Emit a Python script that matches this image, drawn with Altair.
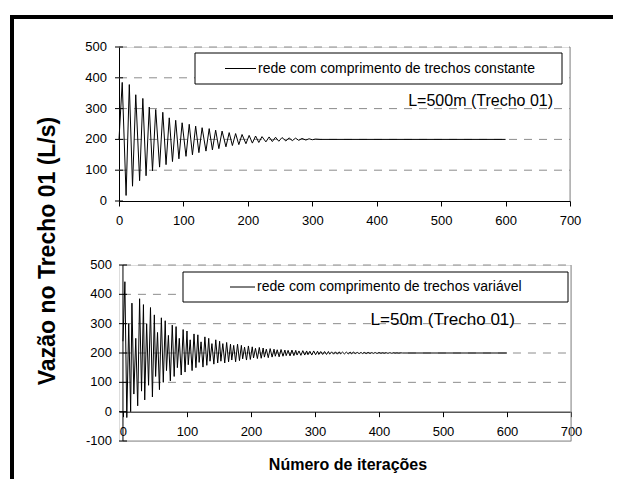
import altair as alt
import pandas as pd

# ---------------- data ----------------
# top panel: turning points of the oscillation (iteration, flow L/s)
top_iter = [0, 5, 11, 16, 21, 26, 32, 37, 42, 47,
            52, 57, 63, 68, 73, 78, 83, 88, 93, 98,
            104, 109, 114, 119, 124, 129, 135, 140, 145, 150,
            155, 160, 166, 171, 176, 181, 186, 191, 197, 202,
            207, 212, 217, 222, 228, 233, 238, 243, 248, 253,
            259, 264, 269, 274, 279, 284, 290, 295, 300, 305,
            312, 600]
top_vazao = [200, 385, 18, 378, 48, 345, 66, 333, 82, 305,
             98, 297, 110, 288, 118, 270, 128, 262, 137, 254,
             145, 249, 150, 243, 157, 238, 162, 235, 166, 230,
             170, 227, 176, 222, 180, 219, 183, 216, 186, 213,
             188, 211, 190, 209, 192, 208, 193, 207, 194, 206,
             195, 205, 196, 204, 197, 203, 198, 202, 199, 201,
             200, 200]

# bottom panel: turning points of the oscillation (iteration, flow L/s)
bot_iter = [0, 3, 6, 9, 12, 14, 17, 20, 23, 26,
            29, 32, 34, 37, 40, 43, 46, 49, 51, 54,
            57, 60, 63, 66, 68, 71, 74, 77, 80, 83,
            85, 88, 91, 94, 97, 100, 102, 105, 108, 111,
            114, 117, 119, 122, 125, 128, 131, 134, 136, 139,
            142, 145, 148, 151, 153, 156, 159, 162, 165, 168,
            170, 173, 176, 179, 182, 185, 187, 190, 193, 196,
            199, 202, 204, 207, 210, 213, 216, 219, 221, 224,
            227, 230, 233, 236, 238, 241, 244, 247, 250, 253,
            255, 258, 261, 264, 267, 270, 272, 275, 278, 281,
            284, 287, 289, 292, 295, 298, 301, 304, 306, 309,
            312, 315, 318, 321, 323, 326, 329, 332, 335, 338,
            340, 343, 346, 349, 352, 355, 357, 360, 363, 366,
            369, 372, 374, 377, 380, 383, 386, 389, 391, 394,
            397, 400, 403, 406, 408, 411, 414, 417, 420, 423,
            425, 428, 431, 434, 437, 600]
bot_vazao = [240, 443, -20, 300, 0, 370, 60, 250, 20, 385,
             70, 365, 40, 300, 90, 355, 50, 330, 120, 270,
             75, 320, 100, 310, 140, 260, 105, 295, 120, 290,
             150, 250, 125, 280, 135, 275, 160, 245, 140, 265,
             150, 262, 168, 238, 152, 255, 158, 250, 172, 232,
             162, 245, 166, 240, 172, 232, 166, 236, 170, 230,
             176, 226, 170, 230, 174, 226, 180, 220, 176, 224,
             178, 221, 183, 216, 181, 219, 182, 217, 186, 213,
             184, 215, 186, 213, 189, 211, 187, 212, 189, 210,
             191, 209, 190, 210, 191, 209, 193, 207, 192, 208,
             193, 207, 194, 206, 193, 207, 194, 206, 195, 205,
             195, 205, 195, 205, 196, 204, 196, 204, 196, 204,
             197, 203, 197, 203, 197, 203, 197, 203, 198, 202,
             198, 202, 198, 202, 198, 202, 198.5, 201.5, 198.5, 201.5,
             198.5, 201.5, 199, 201, 199, 201, 199, 201, 199, 201,
             199.5, 200.5, 199.5, 200.5, 200, 200]

x_ticks = [0, 100, 200, 300, 400, 500, 600, 700]
top_y_ticks = [0, 100, 200, 300, 400, 500]
top_y_labels = ["0", "100", "200", "300", "400", "500"]
bot_y_ticks = [-100, 0, 100, 200, 300, 400, 500]
bot_y_labels = ["-100", "0", "100", "200", "300", "400", "500"]
grid_values = [100, 200, 300, 400, 500]

legend_top = ["rede com comprimento de trechos constante"]
legend_bot = ["rede com comprimento de trechos variável"]
note_top = ["L=500m (Trecho 01)"]
note_bot = ["L=50m (Trecho 01)"]
y_title = ["Vazão no Trecho 01 (L/s)"]
x_title = ["Número de iterações"]

# ---------------- styling ----------------
FONT = "Liberation Sans"
GRID = "#8c8c8c"
FRAME = "#8c8c8c"

W_TOP, H_TOP = 451, 154
W_BOT, H_BOT = 452, 176

top_df = pd.DataFrame({"iter": top_iter, "vazao": top_vazao})
bot_df = pd.DataFrame({"iter": bot_iter, "vazao": bot_vazao})
one = pd.DataFrame({"k": [0]})


def txt(values):
    return pd.DataFrame({"t": values})


# ---------------- top panel ----------------
xs_top = alt.Scale(domain=[0, 700], nice=False, zero=False)
ys_top = alt.Scale(domain=[0, 500], nice=False, zero=False)

grid_top = alt.Chart(pd.DataFrame({"vazao": grid_values})).mark_rule(
    color=GRID, strokeDash=[8, 7], strokeWidth=1
).encode(
    x=alt.X(datum=0, scale=xs_top),
    x2=alt.X2(datum=700),
    y=alt.Y("vazao:Q", scale=ys_top),
)

line_top = alt.Chart(top_df).mark_line(color="black", strokeWidth=1).encode(
    x=alt.X("iter:Q", scale=xs_top, axis=alt.Axis(
        values=x_ticks, title=None, grid=False, domainColor="black",
        tickColor="black", tickSize=5, labelPadding=8, labelFontSize=13,
        labelColor="black", labelFont=FONT, labelFlush=False, labelOverlap=False)),
    y=alt.Y("vazao:Q", scale=ys_top, axis=alt.Axis(
        values=top_y_ticks, title=None, grid=False, domainColor="black",
        ticks=False, tickSize=0, labels=False)),
)

yt_top = alt.Chart(pd.DataFrame({"vazao": top_y_ticks})).mark_rule(
    color="black", strokeWidth=1
).encode(x=alt.value(-4), x2=alt.value(4), y=alt.Y("vazao:Q", scale=ys_top))

ylab_top = alt.Chart(pd.DataFrame({"vazao": top_y_ticks, "lab": top_y_labels})).mark_text(
    font=FONT, fontSize=13, align="right", baseline="middle", color="black"
).encode(text="lab:N", x=alt.value(-12), y=alt.Y("vazao:Q", scale=ys_top))

right_top = alt.Chart(one).mark_rule(color=FRAME, strokeWidth=1).encode(
    x=alt.X(datum=700, scale=xs_top), y=alt.Y(datum=0, scale=ys_top), y2=alt.Y2(datum=500)
)

box_top = alt.Chart(one).mark_rect(fill="white", stroke="black", strokeWidth=1).encode(
    x=alt.value(76), x2=alt.value(443), y=alt.value(6), y2=alt.value(37)
)
sample_top = alt.Chart(one).mark_rule(color="black", strokeWidth=1).encode(
    x=alt.value(106), x2=alt.value(137), y=alt.value(21.5)
)
legtext_top = alt.Chart(txt(legend_top)).mark_text(
    font=FONT, fontSize=14, align="left", baseline="middle", color="black"
).encode(text="t:N", x=alt.value(139), y=alt.value(21.5))
note_top_l = alt.Chart(txt(note_top)).mark_text(
    font=FONT, fontSize=16, align="right", baseline="alphabetic", color="black"
).encode(text="t:N", x=alt.value(434), y=alt.value(59))

ytitle_l = alt.Chart(txt(y_title)).mark_text(
    font=FONT, fontSize=23, fontWeight="bold", angle=270, align="center",
    baseline="middle", color="black"
).encode(text="t:N", x=alt.value(-71), y=alt.value(204))

# outer frame (thick black border, cut by the page edges)
frame_v = alt.Chart(one).mark_rule(color="black", strokeWidth=4, strokeCap="square").encode(
    x=alt.value(-107), y=alt.value(-30), y2=alt.value(438)
)
frame_h = alt.Chart(one).mark_rule(color="black", strokeWidth=4, strokeCap="square").encode(
    x=alt.value(-107), x2=alt.value(502), y=alt.value(-30)
)

top = alt.layer(
    grid_top, right_top, line_top, yt_top, ylab_top, box_top, sample_top,
    legtext_top, note_top_l, ytitle_l, frame_v, frame_h
).properties(width=W_TOP, height=H_TOP)

# ---------------- bottom panel ----------------
xs_bot = alt.Scale(domain=[-6.2, 700], nice=False, zero=False)
ys_bot = alt.Scale(domain=[-100, 500], nice=False, zero=False)

grid_bot = alt.Chart(pd.DataFrame({"vazao": grid_values})).mark_rule(
    color=GRID, strokeDash=[8, 7], strokeWidth=1
).encode(
    x=alt.X(datum=0, scale=xs_bot),
    x2=alt.X2(datum=700),
    y=alt.Y("vazao:Q", scale=ys_bot),
)

line_bot = alt.Chart(bot_df).mark_line(color="black", strokeWidth=1).encode(
    x=alt.X("iter:Q", scale=xs_bot, axis=alt.Axis(
        values=x_ticks, title=None, grid=False, domainColor="black",
        tickColor="black", tickSize=5, labelPadding=9, labelFontSize=13,
        labelColor="black", labelFont=FONT, labelFlush=False, labelOverlap=False,
        offset=-29.33)),
    y=alt.Y("vazao:Q", scale=ys_bot, axis=alt.Axis(
        values=bot_y_ticks, title=None, grid=False, domain=False,
        ticks=False, tickSize=0, labels=False)),
)

yaxis_bot = alt.Chart(one).mark_rule(color="black", strokeWidth=1).encode(
    x=alt.X(datum=0, scale=xs_bot), y=alt.Y(datum=-100, scale=ys_bot), y2=alt.Y2(datum=500)
)
yt_bot = alt.Chart(pd.DataFrame({"vazao": bot_y_ticks})).mark_rule(
    color="black", strokeWidth=1
).encode(x=alt.value(0), x2=alt.value(8), y=alt.Y("vazao:Q", scale=ys_bot))

ylab_bot = alt.Chart(pd.DataFrame({"vazao": bot_y_ticks, "lab": bot_y_labels})).mark_text(
    font=FONT, fontSize=13, align="right", baseline="middle", color="black"
).encode(text="lab:N", x=alt.value(-7), y=alt.Y("vazao:Q", scale=ys_bot))

right_bot = alt.Chart(one).mark_rule(color=FRAME, strokeWidth=1).encode(
    x=alt.X(datum=700, scale=xs_bot), y=alt.Y(datum=-100, scale=ys_bot), y2=alt.Y2(datum=500)
)
bottom_bot = alt.Chart(one).mark_rule(color=FRAME, strokeWidth=1).encode(
    x=alt.X(datum=0, scale=xs_bot), x2=alt.X2(datum=700), y=alt.Y(datum=-100, scale=ys_bot)
)

box_bot = alt.Chart(one).mark_rect(fill="white", stroke="black", strokeWidth=1).encode(
    x=alt.value(64), x2=alt.value(449), y=alt.value(7), y2=alt.value(37)
)
sample_bot = alt.Chart(one).mark_rule(color="black", strokeWidth=1).encode(
    x=alt.value(111), x2=alt.value(136), y=alt.value(22)
)
legtext_bot = alt.Chart(txt(legend_bot)).mark_text(
    font=FONT, fontSize=14, align="left", baseline="middle", color="black"
).encode(text="t:N", x=alt.value(138), y=alt.value(22))
note_bot_l = alt.Chart(txt(note_bot)).mark_text(
    font=FONT, fontSize=17, align="right", baseline="alphabetic", color="black"
).encode(text="t:N", x=alt.value(396), y=alt.value(60))

xtitle_l = alt.Chart(txt(x_title)).mark_text(
    font=FONT, fontSize=16, fontWeight="bold", align="center",
    baseline="alphabetic", color="black"
).encode(text="t:N", x=alt.value(229), y=alt.value(205))

bottom = alt.layer(
    grid_bot, right_bot, bottom_bot, line_bot, yaxis_bot, yt_bot, ylab_bot, box_bot,
    sample_bot, legtext_bot, note_bot_l, xtitle_l
).properties(width=W_BOT, height=H_BOT)

# svg kept at 605 px wide (the page body width) so it is never rescaled
chart = alt.vconcat(top, bottom, spacing=64, bounds="flush").properties(
    padding={"left": 0, "top": 5, "right": -12, "bottom": -10}
).configure_view(stroke=None).configure(background="white")

chart.save("out.html", embed_options={"renderer": "svg", "actions": False})
